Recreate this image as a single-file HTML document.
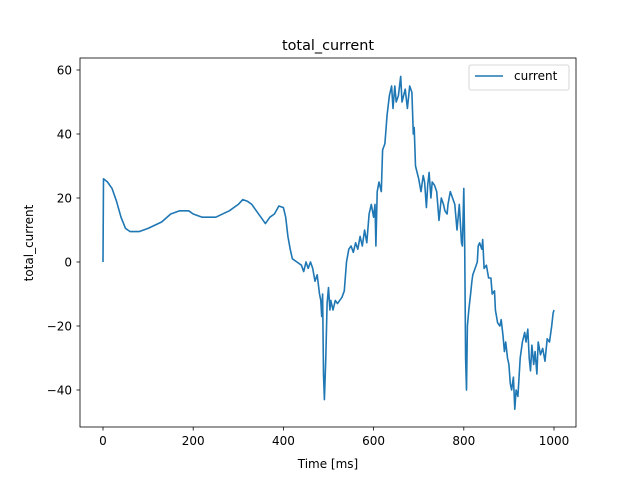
<!DOCTYPE html>
<html><head><meta charset="utf-8"><style>
body{margin:0;background:#fff}
svg text{font-family:"DejaVu Sans","Liberation Sans",sans-serif;fill:#000}
</style></head><body>
<svg id="chart" width="640" height="480" viewBox="0 0 640 480" xmlns="http://www.w3.org/2000/svg">
<rect width="640" height="480" fill="#fff"/>
<text x="328" y="50" font-size="14.4" text-anchor="middle">total_current</text>
<g id="xt"></g>
<g id="yt"></g>
<path id="line" fill="none" stroke="#1f77b4" stroke-width="1.6" stroke-linejoin="round"/>
<rect x="80" y="58" width="496" height="369" fill="none" stroke="#000" stroke-width="0.8"/>
<text x="328" y="468" font-size="12" text-anchor="middle">Time [ms]</text>
<text transform="translate(33,243) rotate(-90)" font-size="12" text-anchor="middle">total_current</text>
<g>
<rect x="469" y="65" width="100" height="25" rx="2" fill="#fff" stroke="#ccc" stroke-width="0.8"/>
<line x1="475" y1="76" x2="503" y2="76" stroke="#1f77b4" stroke-width="1.5"/>
<text x="514" y="80" font-size="12">current</text>
</g>
</svg>
<script>
const times=[0,1,10,20,30,40,50,60,80,100,130,150,170,190,200,220,250,280,300,310,320,330,340,350,360,370,380,390,400,405,410,415,420,430,440,445,450,455,460,465,470,475,480,483,485,487,489,491,494,497,500,503,505,510,515,520,530,535,540,545,550,555,560,565,570,575,580,585,590,595,600,603,605,608,612,617,620,625,630,635,640,643,647,650,655,660,663,670,675,680,685,688,690,693,700,705,710,713,717,720,723,727,730,735,740,745,750,755,758,763,765,770,780,785,790,795,797,800,802,804,806,808,811,815,818,820,825,830,832,835,840,842,845,850,855,860,863,868,870,875,880,883,887,890,893,897,900,903,906,910,913,916,920,925,930,935,938,942,945,948,951,955,958,962,965,970,975,980,985,990,995,998,1000];
const currents=[0,26,25,23,19,14,10.5,9.5,9.5,10.5,12.5,15,16,16,15,14,14,16,18,19.5,19,18,16,14,12,14,15,17.5,17,14,8,4,1,0,-1,-3,0,-2,0,-2,-6,-4,-10,-12,-17,-10,-35,-43,-30,-13,-8,-15,-12,-15,-12,-13,-11,-9,0,4,5,3,6,4,8,5,10,6,15,18,14,18,5,22,25,22,35,37,46,52,55,48,55,50,52,58,50,54,48,55,53,40,42,30,26,22,27,25,17,24,28,20,25,24,22,13,20,18,16,15,18,22,18,10,18,6,5,23,5,-30,-40,-20,-15,-10,-6,-4,-2,0,5,6,4,7,-2,-1,-5,-5,-10,-9,-15,-19,-20,-18,-23,-28,-25,-30,-32,-38,-40,-36,-46,-40,-42,-30,-25,-22,-25,-21,-30,-34,-26,-32,-28,-35,-25,-29,-27,-31,-24,-25,-20,-16,-15];
const xTicks=[0,200,400,600,800,1000];
const yTicks=[-40,-20,0,20,40,60];
const X=t=>103+t*0.451, Y=v=>262-v*3.2;
const ns="http://www.w3.org/2000/svg";
let d="";times.forEach((t,i)=>{if(currents[i]===undefined)return;d+=(i?"L":"M")+X(t).toFixed(1)+","+Y(currents[i]).toFixed(1)});
document.getElementById('line').setAttribute('d',d);
const xg=document.getElementById('xt'),yg=document.getElementById('yt');
xTicks.forEach(t=>{const l=document.createElementNS(ns,'line');l.setAttribute('x1',X(t));l.setAttribute('x2',X(t));l.setAttribute('y1',427);l.setAttribute('y2',430.5);l.setAttribute('stroke','#000');l.setAttribute('stroke-width','0.8');


xg.appendChild(l);const tx=document.createElementNS(ns,'text');tx.setAttribute('x',X(t));tx.setAttribute('y',445);tx.setAttribute('font-size','12');tx.setAttribute('text-anchor','middle');tx.textContent=t;


xg.appendChild(tx);});
yTicks.forEach(v=>{const l=document.createElementNS(ns,'line');l.setAttribute('x1',76.5);l.setAttribute('x2',80);l.setAttribute('y1',Y(v));l.setAttribute('y2',Y(v));l.setAttribute('stroke','#000');l.setAttribute('stroke-width','0.8');


yg.appendChild(l);const tx=document.createElementNS(ns,'text');tx.setAttribute('x',72);tx.setAttribute('y',Y(v)+4.5);tx.setAttribute('font-size','12');tx.setAttribute('text-anchor','end');tx.textContent=v<0?'\u2212'+(-v):v;


yg.appendChild(tx);});
</script>
</body></html>
